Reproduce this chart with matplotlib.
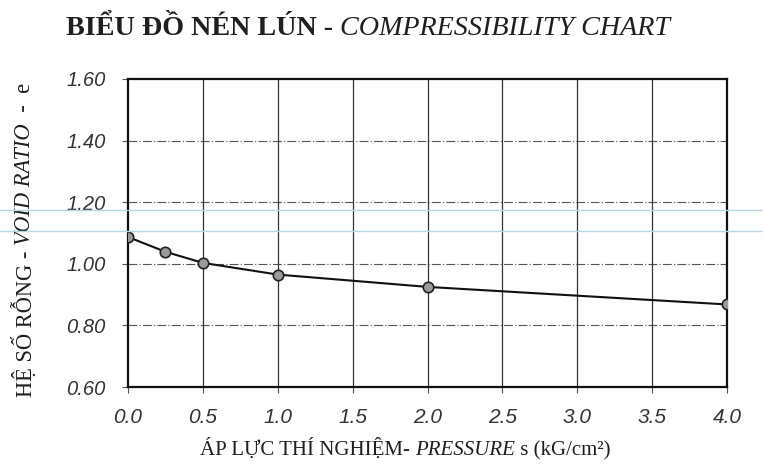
import matplotlib
matplotlib.use("Agg")
import matplotlib.pyplot as plt
from matplotlib.lines import Line2D

# Data
pressure = [0.0, 0.25, 0.5, 1.0, 2.0, 4.0]
void_ratio = [1.087, 1.039, 1.003, 0.965, 0.925, 0.868]
x_ticks = [0.0, 0.5, 1.0, 1.5, 2.0, 2.5, 3.0, 3.5, 4.0]
y_ticks = [0.60, 0.80, 1.00, 1.20, 1.40, 1.60]

title_parts = [("BIỂU ĐỒ NÉN LÚN - ", "normal"), ("COMPRESSIBILITY CHART", "italic")]
xlabel_parts = [("ÁP LỰC THÍ NGHIỆM- ", "normal"), ("PRESSURE", "italic"),
                (" s (kG/cm²)", "normal")]
ylabel_parts = [("HỆ SỐ RỖNG - ", "normal"), ("VOID RATIO", "italic"),
                ("  -  e", "normal")]

serif = "Liberation Serif"
sans = "Liberation Sans"
W, H = 763, 469

fig = plt.figure(figsize=(W / 100, H / 100), dpi=100)
ax = fig.add_axes([128 / W, 1 - 387 / H, 599 / W, 308 / H])

ax.plot(pressure, void_ratio, color="#111111", lw=1.5, zorder=3)
ax.plot(pressure, void_ratio, ls="none", marker="o", ms=7.5,
        markerfacecolor="#9a9a9a", markeredgecolor="#222222", mew=1.2, zorder=4)

ax.set_xlim(0, 4)
ax.set_ylim(0.6, 1.6)
ax.set_xticks(x_ticks)
ax.set_yticks(y_ticks)
ax.set_xticklabels([f"{v:.1f}" for v in x_ticks], fontfamily=sans, fontstyle="italic",
                   fontsize=15, color="#333333")
ax.set_yticklabels([f"{v:.2f}" for v in y_ticks], fontfamily=sans, fontstyle="italic",
                   fontsize=14.5, color="#333333")
ax.tick_params(axis="y", direction="out", length=4, width=0.8, color="#555555", pad=12)
ax.tick_params(axis="x", direction="out", length=4, width=0.8, color="#555555", pad=11)

# grid: dashed horizontals, solid verticals
for y in y_ticks[1:-1]:
    ax.axhline(y, color="#555555", lw=0.8, ls=(0, (8, 2, 1, 2)), zorder=1)
for x in x_ticks[1:-1]:
    ax.axvline(x, color="#333344", lw=0.9, zorder=1)
for s in ax.spines.values():
    s.set_color("#111111")
    s.set_linewidth(1.6)


def mixed_text(parts, x, y, length, size, rot=0, weight0="normal"):
    """Chain text pieces of mixed style, then scale them to span `length` px."""
    kw = dict(family=serif, fontsize=size, color="#1f1f1f", rotation=rot)
    if rot:
        kw.update(ha="center", va="bottom")
        nxt = dict(xy=(0.5, 1), ha="center", va="bottom")
    else:
        kw.update(ha="left", va="baseline")
        nxt = dict(xy=(1, 0), ha="left", va="bottom")
    first = fig.text(x / W, 1 - y / H, parts[0][0], style=parts[0][1],
                     weight=weight0, **kw)
    items = [first]
    for txt, st in parts[1:]:
        a = ax.annotate(txt, xycoords=items[-1], style=st, annotation_clip=False,
                        family=serif, fontsize=size, color="#1f1f1f",
                        rotation=rot, **nxt)
        items.append(a)
    fig.canvas.draw()
    r = fig.canvas.get_renderer()
    boxes = [t.get_window_extent(r) for t in items]
    if rot:
        span = max(b.y1 for b in boxes) - min(b.y0 for b in boxes)
    else:
        span = max(b.x1 for b in boxes) - min(b.x0 for b in boxes)
    for t in items:
        t.set_fontsize(size * length / span)
    return items


mixed_text(title_parts, 66, 35, 604, 18, weight0="bold")
mixed_text(xlabel_parts, 200, 455, 412, 15)
mixed_text(ylabel_parts, 25, 397, 315, 16, rot=90)

# faint scanner lines across the page
for yy in [210, 231]:
    fig.add_artist(Line2D([0, 1], [1 - yy / H, 1 - yy / H], transform=fig.transFigure,
                          color="#b3d8ea", lw=1.0, zorder=10))

fig.savefig("out.png", dpi=100)
